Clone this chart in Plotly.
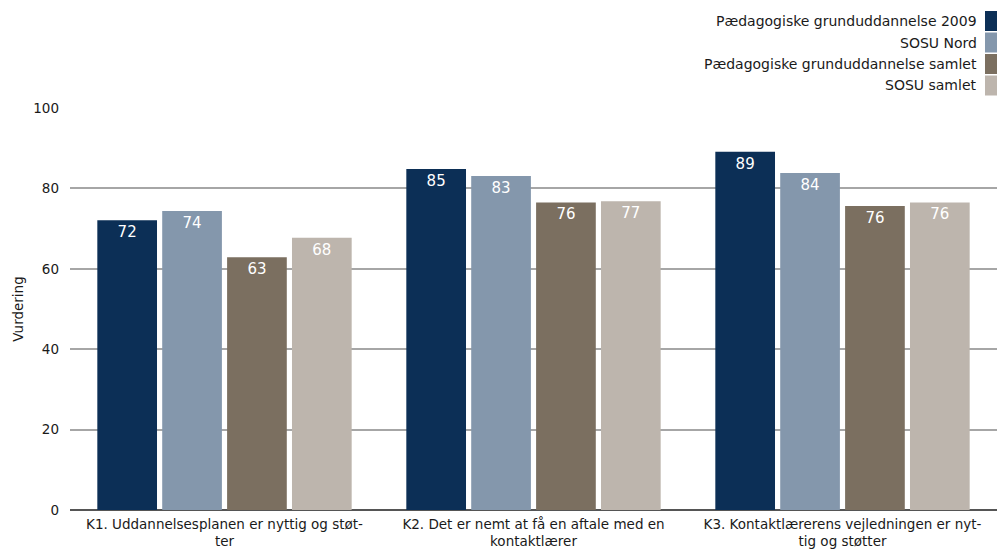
import plotly.graph_objects as go

categories = [
    "K1. Uddannelsesplanen er nyttig og støt-<br>ter",
    "K2. Det er nemt at få en aftale med en<br>kontaktlærer",
    "K3. Kontaktlærerens vejledningen er nyt-<br>tig og støtter",
]
series_names = [
    "Pædagogiske grunduddannelse 2009",
    "SOSU Nord",
    "Pædagogiske grunduddannelse samlet",
    "SOSU samlet",
]
pgu_2009 = [72.1, 84.8, 89.1]
sosu_nord = [74.4, 83.1, 83.8]
pgu_samlet = [62.9, 76.5, 75.6]
sosu_samlet = [67.7, 76.8, 76.5]
colors = ["#0c2f56", "#8497ac", "#7b6f60", "#bdb5ad"]

series = [pgu_2009, sosu_nord, pgu_samlet, sosu_samlet]
font = "DejaVu Sans"

fig = go.Figure()
for name, vals, col in zip(series_names, series, colors):
    fig.add_trace(go.Bar(
        x=categories, y=vals, name=name, marker=dict(color=col, line=dict(width=0)),
        text=[str(round(v)) for v in vals], textposition="inside",
        insidetextanchor="end", textangle=0,
        textfont=dict(family=font, size=15, color="white"),
        showlegend=False,
    ))

# legend drawn by hand: text right-aligned, swatch to the right
row_h = 21.5
for i, (name, col) in enumerate(zip(series_names, colors)):
    top = 11 + i * row_h
    fig.add_shape(type="rect", xref="paper", yref="paper",
                  x0=(985 - 70) / 927, x1=1.0,
                  y0=(510 - (top + 20)) / 402, y1=(510 - top) / 402,
                  fillcolor=col, line=dict(width=0))
    fig.add_annotation(xref="paper", yref="paper", x=(979 - 70) / 927,
                       y=(510 - (top + 10)) / 402, text=name, showarrow=False,
                       xanchor="right", yanchor="middle",
                       font=dict(family=font, size=14, color="#1a1a1a"))

fig.update_layout(
    width=997, height=554,
    margin=dict(l=70, r=0, t=108, b=44),
    plot_bgcolor="white", paper_bgcolor="white",
    barmode="group", bargap=0.16, bargroupgap=0.08,
    font=dict(family=font, size=13, color="#1a1a1a"),
    xaxis=dict(showgrid=False, ticks="", showline=False, ticklabelstandoff=4,
               tickfont=dict(family=font, size=13.5)),
    yaxis=dict(range=[0, 100], dtick=20, showgrid=True, gridcolor="#a6a6a6",
               gridwidth=1.5, zeroline=True, zerolinecolor="#555555",
               zerolinewidth=1.5, showline=False, ticks="",
               ticklabelstandoff=10,
               tickfont=dict(family=font, size=13.5),
               title=dict(text="Vurdering", font=dict(family=font, size=13.5),
                          standoff=6)),
)

fig.write_html("out.html", config={"displayModeBar": False},
               post_script="document.body.style.margin='0px';document.body.style.overflow='hidden';")
